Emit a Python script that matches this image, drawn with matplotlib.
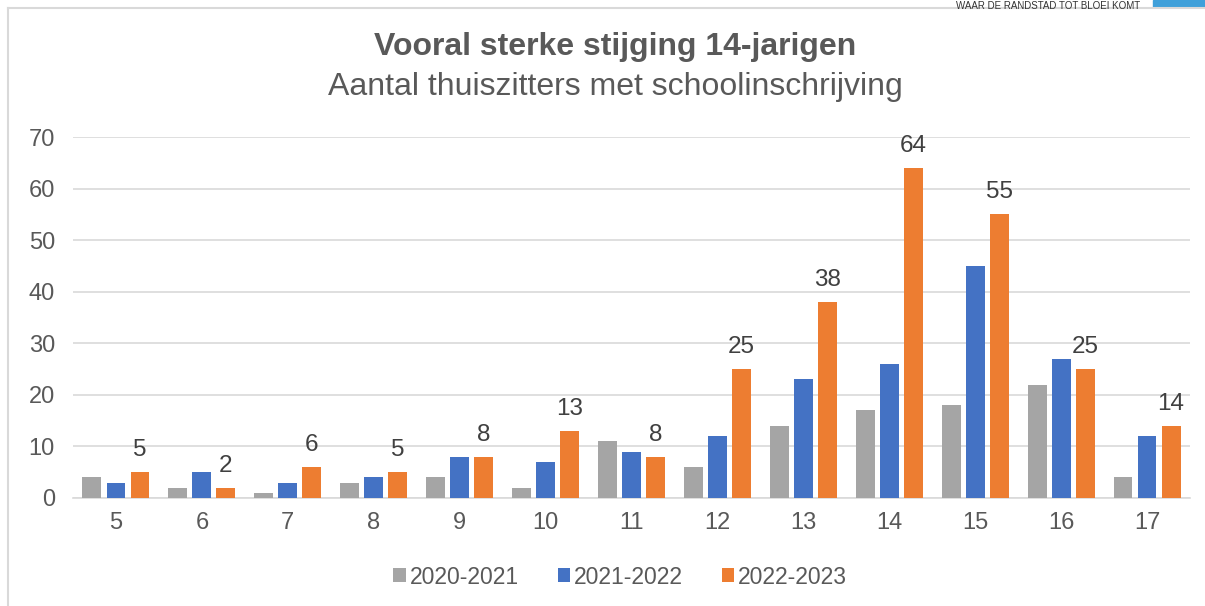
import matplotlib.pyplot as plt
import numpy as np
from matplotlib.lines import Line2D
from matplotlib.patches import Rectangle

plt.rcParams['font.family'] = ['Liberation Sans', 'DejaVu Sans']

ages = ["5", "6", "7", "8", "9", "10", "11", "12", "13", "14", "15", "16", "17"]
y2021 = [4, 2, 1, 3, 4, 2, 11, 6, 14, 17, 18, 22, 4]
y2122 = [3, 5, 3, 4, 8, 7, 9, 12, 23, 26, 45, 27, 12]
y2223 = [5, 2, 6, 5, 8, 13, 8, 25, 38, 64, 55, 25, 14]
series_labels = ["2020-2021", "2021-2022", "2022-2023"]
colors = ["#A5A5A5", "#4472C4", "#ED7D31"]

text_col = "#595959"

fig = plt.figure(figsize=(12.05, 6.06), dpi=100)
ax = fig.add_axes([73 / 1205, 1 - 498 / 606, (1190 - 73) / 1205, (498 - 137) / 606])

x = np.arange(len(ages))
width = 0.22
pitch = 0.28
for i, (vals, lab, c) in enumerate(zip([y2021, y2122, y2223], series_labels, colors)):
    bars = ax.bar(x + (i - 1) * pitch, vals, width, color=c, label=lab, zorder=3)
    if i == 2:
        for b, v in zip(bars, vals):
            ax.annotate(str(v), (b.get_x() + b.get_width() / 2, v),
                        xytext=(0, 8), textcoords="offset points",
                        ha="center", va="bottom", fontsize=17.5, color="#404040")

ax.set_xlim(-0.5, len(ages) - 0.5)
ax.set_ylim(0, 70)
ax.set_yticks(range(0, 71, 10))
ax.set_xticks(x)
ax.set_xticklabels(ages)
ax.grid(axis="y", color="#D9D9D9", linewidth=1.2, zorder=0)
for s in ["top", "right", "left"]:
    ax.spines[s].set_visible(False)
ax.spines["bottom"].set_color("#D9D9D9")
ax.spines["bottom"].set_linewidth(1.2)
ax.tick_params(axis="both", length=0, labelsize=17, labelcolor=text_col)
ax.tick_params(axis="y", pad=13)
ax.tick_params(axis="x", pad=10)

fig.text(615 / 1205, 1 - 47 / 606, "Vooral sterke stijging 14-jarigen", ha="center", va="center",
         fontsize=23, fontweight="bold", color=text_col)
fig.text(615 / 1205, 1 - 87 / 606, "Aantal thuiszitters met schoolinschrijving", ha="center", va="center",
         fontsize=23, color=text_col)

fig.legend(loc="center", bbox_to_anchor=(620 / 1205, 1 - 577 / 606), ncol=3, frameon=False,
           fontsize=16.5, labelcolor=text_col, handlelength=0.55, handleheight=0.55,
           handletextpad=0.15, columnspacing=1.7)

# chart frame and page header
fig.add_artist(Line2D([8 / 1205, 8 / 1205], [0, 1 - 8 / 606], color="#D9D9D9", linewidth=1.5))
fig.add_artist(Line2D([8 / 1205, 1], [1 - 8 / 606, 1 - 8 / 606], color="#D9D9D9", linewidth=1.5))
fig.add_artist(Rectangle((1153 / 1205, 1 - 7 / 606), 52 / 1205, 7 / 606,
                         transform=fig.transFigure, color="#3FA0DA"))
fig.text(1140 / 1205, 1 - 1 / 606, "WAAR DE RANDSTAD TOT BLOEI KOMT", ha="right", va="top",
         fontsize=7, color="#333333")

fig.savefig("out.png", dpi=100)
